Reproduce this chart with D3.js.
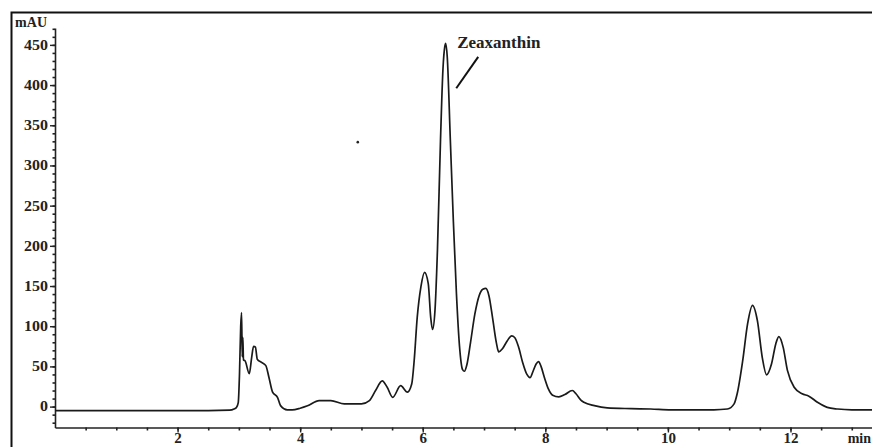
<!DOCTYPE html>
<html>
<head>
<meta charset="utf-8">
<script src="https://cdn.jsdelivr.net/npm/d3@7"></script>
<style>
  body { margin: 0; background: #fff; }
  svg { display: block; }
  .axis text { font-family: "Liberation Serif", "Times New Roman", serif; font-weight: bold; fill: #222; }
  .axis path, .axis line { stroke: #222; }
</style>
</head>
<body>
<div id="chart"></div>
<script>
// --------------------------------------
//  Data
// --------------------------------------

// retention time (min)
const time = [
  0, 1, 2, 2.5, 2.85, 2.92, 2.96, 2.99, 3.01, 3.03, 3.044, 3.055, 3.065, 3.075, 3.1, 3.17,
  3.21, 3.24, 3.27, 3.3, 3.37, 3.44, 3.49, 3.55, 3.63, 3.68, 3.79, 3.87, 4.0, 4.12, 4.31,
  4.5, 4.72, 5.0, 5.13, 5.23, 5.34, 5.42, 5.51, 5.64, 5.75, 5.82, 5.86, 5.91, 5.97, 6.03,
  6.09, 6.13, 6.16, 6.2, 6.24, 6.29, 6.33, 6.36, 6.375, 6.4, 6.45, 6.5, 6.55, 6.6, 6.65,
  6.68, 6.72, 6.78, 6.85, 6.92, 6.98, 7.03, 7.08, 7.14, 7.2, 7.24, 7.3, 7.38, 7.45, 7.5,
  7.56, 7.63, 7.7, 7.75, 7.8, 7.85, 7.89, 7.93, 7.99, 8.05, 8.12, 8.22, 8.32, 8.44, 8.5,
  8.58, 8.63, 8.8, 9.01, 9.4, 9.72, 10.05, 10.75, 10.97, 11.08, 11.13, 11.22, 11.3, 11.38,
  11.46, 11.54, 11.61, 11.69, 11.76, 11.81, 11.88, 11.95, 12.06, 12.19, 12.3, 12.44, 12.6,
  12.77, 13.0, 13.33
];

// absorbance (mAU)
const absorbance = [
  -5, -5, -5, -5, -4.5, -3, -1, 5, 40, 100, 117, 62, 86, 58, 57, 41,
  62, 75, 74, 59, 55, 51, 36.5, 18, 11.6, 1.2, -4, -4, -2, 1, 7.5,
  7.5, 3.4, 3.4, 7.5, 20, 32, 24, 11.6, 26, 18, 28, 57, 111, 149, 167,
  153, 111, 96, 120, 195, 332, 420, 448, 452, 435, 332, 230, 140, 75, 46,
  44, 52, 80, 115, 138, 146, 147, 138, 110, 80, 68, 72, 82, 88, 86,
  75, 55, 40, 36, 44, 53, 56, 50, 35, 22, 14, 12, 15, 20, 16,
  8, 5.4, 1.2, -1.6, -2.5, -3, -4, -4, -3, 3.4, 16, 57, 103, 126,
  107, 61, 39.5, 53, 78, 87, 74, 45, 24, 16, 13, 5.4, -1,
  -3, -4, -4
];

const xMajorTicks = [2, 4, 6, 8, 10, 12];
const xMinorTicks = d3.range(0.5, 13.01, 0.5);
const yMajorTicks = [0, 50, 100, 150, 200, 250, 300, 350, 400, 450];
const yMinorTicks = d3.range(-20, 471, 10);

// peak annotation
const peakLabel = { text: "Zeaxanthin", t: 6.563, v: 446 };
const peakLeader = [[6.905, 435], [6.547, 396]];

// stray dot on the scan
const specks = [[4.94, 329]];

// --------------------------------------
//  Canvas
// --------------------------------------

const width = 872;
const height = 447;

const svg = d3.select("#chart")
  .append("svg")
    .attr("width", width)
    .attr("height", height);

// frame (left and top edges visible)
svg.append("path")
  .attr("d", `M11.5,${height} V12.5 H${width}`)
  .attr("fill", "none")
  .attr("stroke", "#111")
  .attr("stroke-width", 2);

// --------------------------------------
//  Scales
// --------------------------------------

const x = d3.scaleLinear()
  .domain([0, 13.33])
  .range([55, 872]);

const y = d3.scaleLinear()
  .domain([-26, 471])
  .range([427.5, 28]);

// --------------------------------------
//  Axes
// --------------------------------------

const x0 = x(0);
const serif = `"Liberation Serif", "Times New Roman", serif`;

// y minor ticks
svg.append("g")
  .attr("class", "axis")
  .attr("transform", `translate(${x0}, 0)`)
  .call(d3.axisLeft(y).tickValues(yMinorTicks).tickSize(2.5).tickSizeOuter(0).tickFormat(""))
  .call(g => g.selectAll("line, path").attr("stroke-width", 1.6));

// y major ticks
svg.append("g")
  .attr("class", "axis")
  .attr("transform", `translate(${x0}, 0)`)
  .call(d3.axisLeft(y).tickValues(yMajorTicks).tickSize(5).tickSizeOuter(0).tickPadding(2))
  .call(g => g.select(".domain").remove())
  .call(g => g.selectAll("line").attr("stroke-width", 1.4))
  .call(g => g.selectAll("text")
    .attr("font-size", 16)
    .attr("transform", "scale(1, 0.85)"));

// x minor ticks
svg.append("g")
  .attr("class", "axis")
  .attr("transform", `translate(0, ${y(-26)})`)
  .call(d3.axisBottom(x).tickValues(xMinorTicks).tickSize(3).tickSizeOuter(0).tickFormat(""))
  .call(g => g.selectAll("line, path").attr("stroke-width", 1.6));

// x major ticks
svg.append("g")
  .attr("class", "axis")
  .attr("transform", `translate(0, ${y(-26)})`)
  .call(d3.axisBottom(x).tickValues(xMajorTicks).tickSize(5).tickSizeOuter(0).tickPadding(0))
  .call(g => g.select(".domain").remove())
  .call(g => g.selectAll("line").attr("stroke-width", 1.4))
  .call(g => g.selectAll("text").attr("font-size", 15));

// axis titles
svg.append("text")
  .attr("x", x0 - 8)
  .attr("y", y(471) - 1)
  .attr("text-anchor", "end")
  .attr("font-family", serif)
  .attr("font-weight", "bold")
  .attr("font-size", 14)
  .attr("fill", "#222")
  .text("mAU");

svg.append("text")
  .attr("x", width - 1)
  .attr("y", y(-26) + 15.5)
  .attr("text-anchor", "end")
  .attr("font-family", serif)
  .attr("font-weight", "bold")
  .attr("font-size", 14)
  .attr("fill", "#222")
  .text("min");

// --------------------------------------
//  Trace
// --------------------------------------

const points = time.map((t, i) => [t, absorbance[i]]);

const line = d3.line()
  .x(d => x(d[0]))
  .y(d => y(d[1]))
  .curve(d3.curveMonotoneX);

svg.append("path")
  .datum(points)
  .attr("d", line)
  .attr("fill", "none")
  .attr("stroke", "#1a1a1a")
  .attr("stroke-width", 1.7)
  .attr("stroke-linejoin", "round");

svg.selectAll(".speck")
  .data(specks)
  .join("circle")
  .attr("class", "speck")
  .attr("cx", d => x(d[0]))
  .attr("cy", d => y(d[1]))
  .attr("r", 1.3)
  .attr("fill", "#222");

// --------------------------------------
//  Annotation
// --------------------------------------

svg.append("path")
  .datum(peakLeader)
  .attr("d", d3.line().x(d => x(d[0])).y(d => y(d[1])))
  .attr("stroke", "#111")
  .attr("stroke-width", 2);

svg.append("text")
  .attr("x", x(peakLabel.t))
  .attr("y", y(peakLabel.v))
  .attr("font-family", serif)
  .attr("font-weight", "bold")
  .attr("font-size", 17)
  .attr("fill", "#222")
  .text(peakLabel.text);
</script>
</body>
</html>
